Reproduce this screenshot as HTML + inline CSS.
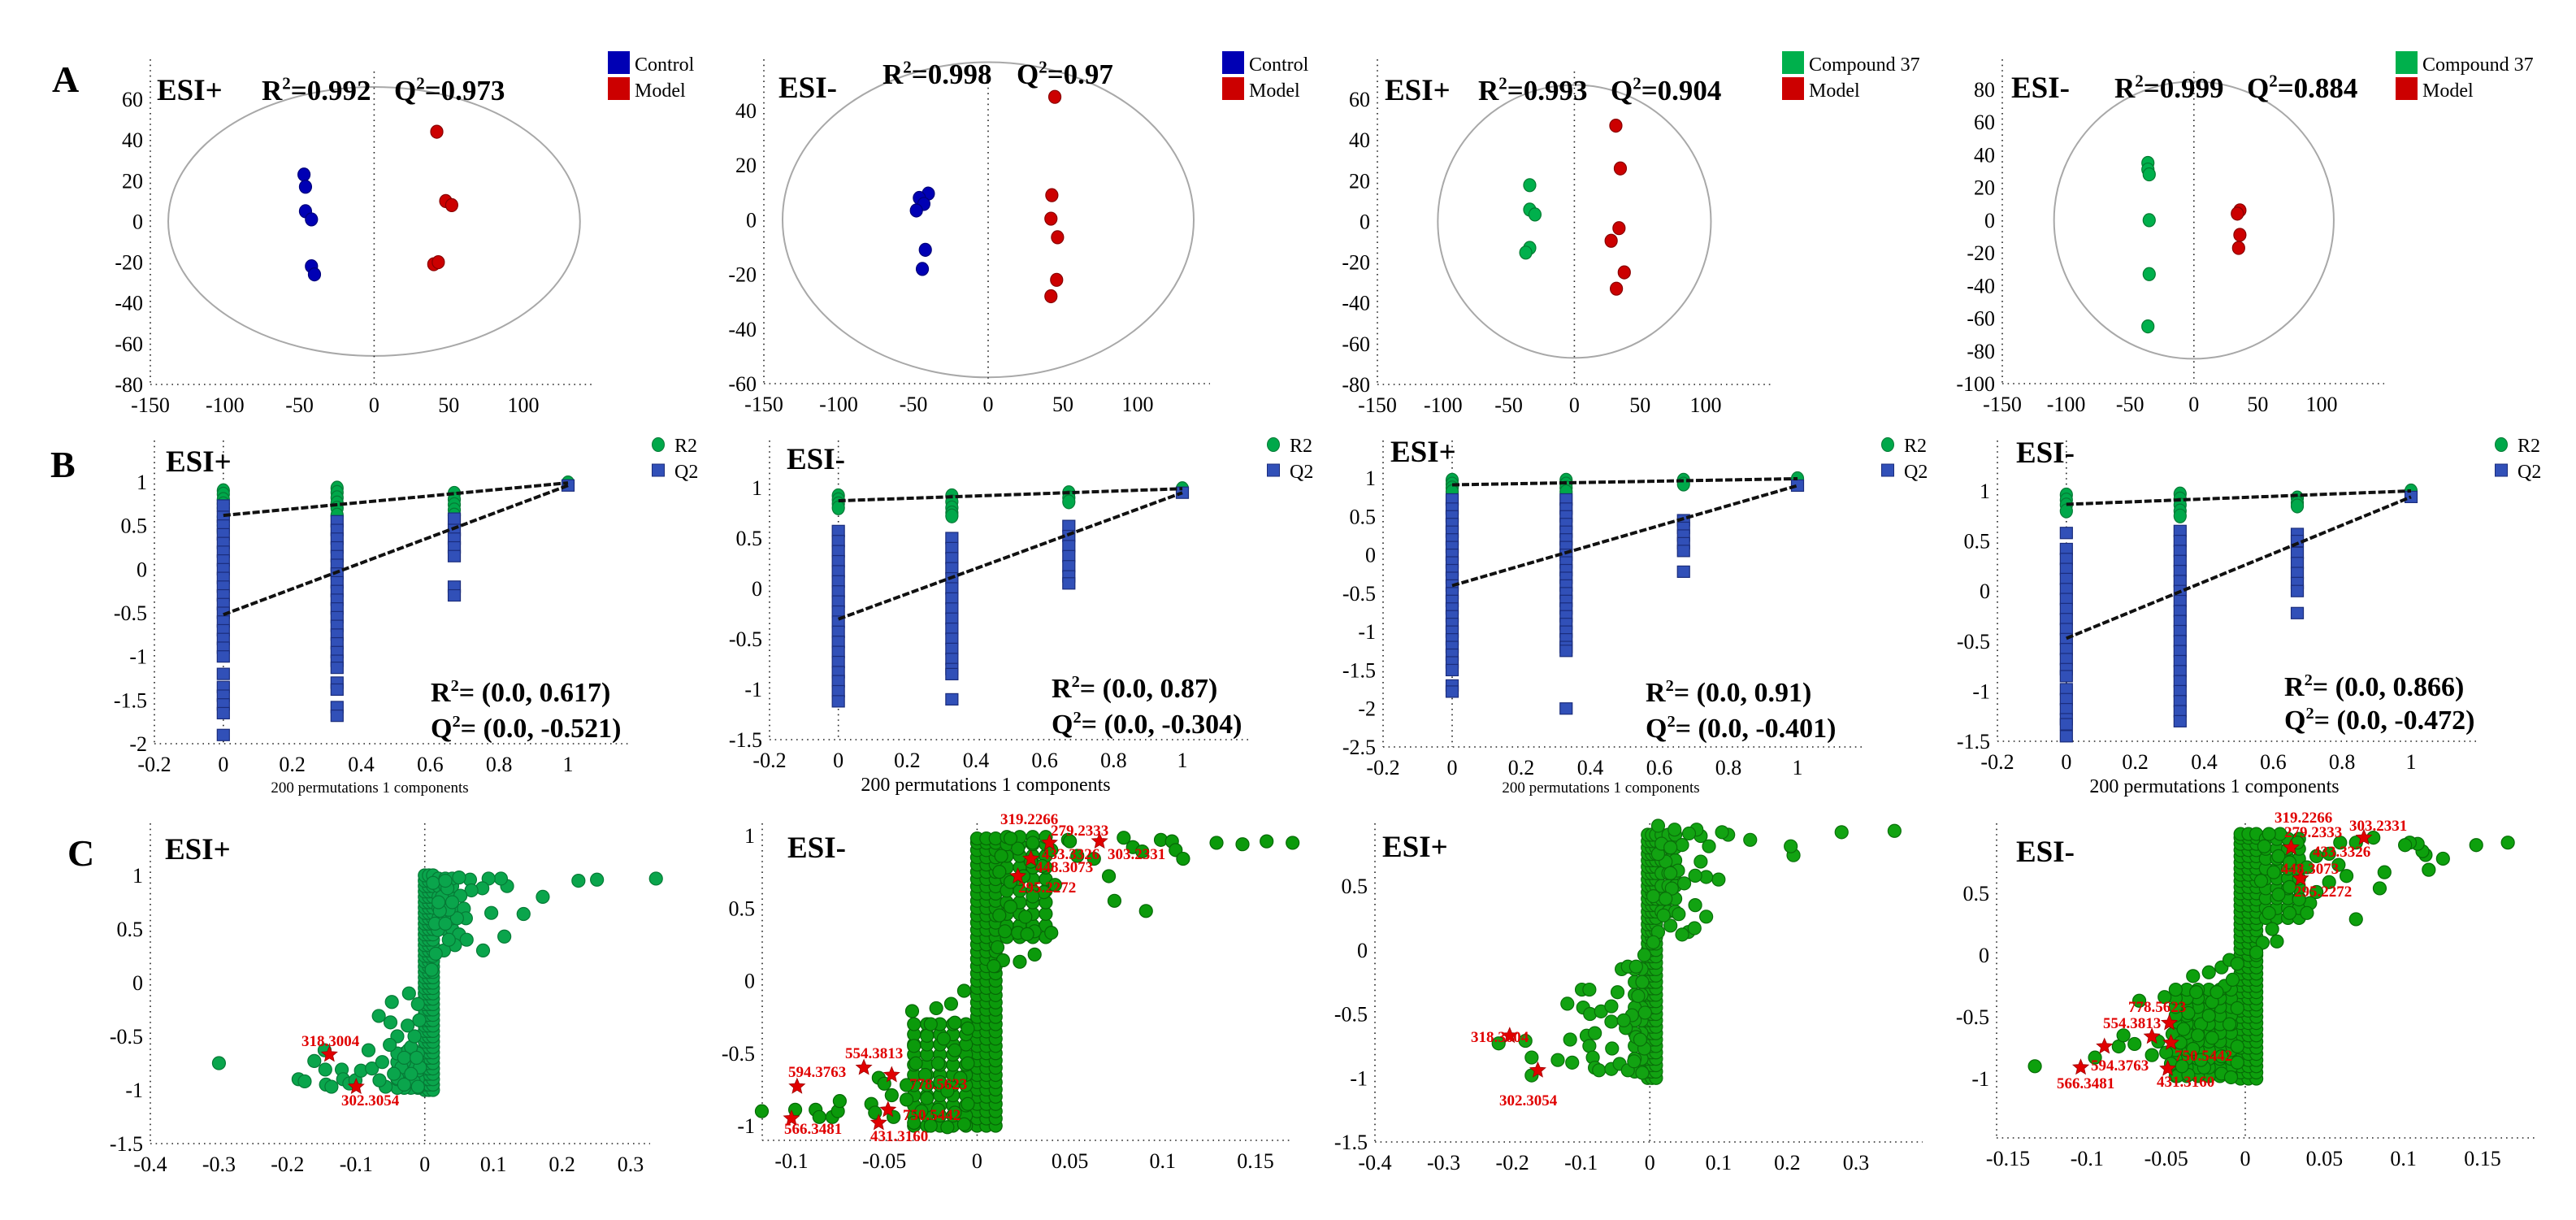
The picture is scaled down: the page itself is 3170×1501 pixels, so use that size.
<!DOCTYPE html>
<html><head><meta charset="utf-8"><style>
html,body{margin:0;padding:0;background:#fff;}
svg{display:block;font-family:"Liberation Serif",serif;}
</style></head><body>
<svg id="fig" width="3170" height="1501" viewBox="0 0 3170 1501" xmlns="http://www.w3.org/2000/svg">
<rect x="0" y="0" width="3170" height="1501" fill="#fff"/>
</svg>
<script>
// ===== Panel A data (score plots) =====
const a1BlueX=[-47,-46,-46,-42,-42,-40];
const a1BlueY=[23,17,5,1,-22,-26];
const a1RedX=[42,48,52,40,43];
const a1RedY=[44,10,8,-21,-20];
const a2BlueX=[-40,-46,-43,-48,-42,-44];
const a2BlueY=[9.6,8,5.8,3.4,-11,-18];
const a2RedX=[44.6,42.6,42,46.4,45.8,42];
const a2RedY=[45,9,0.4,-6.4,-22,-28];
const a3GreenX=[-34,-34,-30,-34,-37];
const a3GreenY=[17.8,5.8,3.4,-13,-15.3];
const a3RedX=[31.6,35,34,28,38,32];
const a3RedY=[47,26,-3.3,-9.5,-25,-33];
const a4GreenX=[-36,-36,-35,-35,-35,-36];
const a4GreenY=[35,31,28,0,-33,-65];
const a4RedX=[36,34,36,35];
const a4RedY=[6,4,-9,-17];
const aXTicks=[-150,-100,-50,0,50,100];
const a1YTicks=[-80,-60,-40,-20,0,20,40,60];
const a2YTicks=[-60,-40,-20,0,20,40];
const a4YTicks=[-100,-80,-60,-40,-20,0,20,40,60,80];
const aStats=[["ESI+","0.992","0.973"],["ESI-","0.998","0.97"],["ESI+","0.993","0.904"],["ESI-","0.999","0.884"]];
// ===== Panel B data (permutation tests) =====
const bPermX=[0,0.33,0.67,1];
const b1R2=[[0.9,0.86,0.8,0.75,0.7,0.6,0.5,0.42],[0.93,0.88,0.82,0.76,0.7,0.62],[0.87,0.8,0.74,0.68,0.62],[0.99]];
const b1Q2=[[0.73,0.6,0.5,0.4,0.3,0.2,0.1,0,-0.1,-0.2,-0.3,-0.4,-0.5,-0.6,-0.7,-0.8,-0.9,-1.0,-1.2,-1.35,-1.45,-1.55,-1.65,-1.9],[0.55,0.45,0.35,0.25,0.15,0.05,-0.05,-0.15,-0.25,-0.35,-0.45,-0.55,-0.65,-0.75,-0.85,-0.95,-1.05,-1.13,-1.3,-1.38,-1.58,-1.68],[0.58,0.45,0.35,0.25,0.15,-0.2,-0.3],[0.96]];
const b1Int=[0.617,-0.521];
const b2R2=[[0.92,0.88,0.84,0.8],[0.92,0.86,0.8,0.75,0.72],[0.95,0.9,0.86],[0.99]];
const b2Q2=[[0.57,0.47,0.37,0.27,0.17,0.07,-0.03,-0.13,-0.23,-0.33,-0.43,-0.53,-0.63,-0.73,-0.83,-0.92,-1.02,-1.12],[0.5,0.4,0.3,0.2,0.1,0,-0.1,-0.2,-0.3,-0.4,-0.5,-0.6,-0.7,-0.8,-0.85,-1.1],[0.62,0.52,0.42,0.32,0.22,0.12,0.05],[0.95]];
const b2Int=[0.87,-0.304];
const b3R2=[[0.97,0.92,0.87,0.82],[0.97,0.92,0.87,0.82],[0.97,0.92],[0.99]];
const b3Q2=[[0.72,0.6,0.5,0.4,0.3,0.2,0.1,0,-0.1,-0.2,-0.3,-0.4,-0.5,-0.6,-0.7,-0.8,-0.9,-1.0,-1.1,-1.2,-1.3,-1.4,-1.5,-1.7,-1.78],[0.72,0.6,0.5,0.4,0.3,0.2,0.1,0,-0.1,-0.2,-0.3,-0.4,-0.5,-0.6,-0.7,-0.8,-0.9,-1.0,-1.1,-1.2,-1.25,-2.0],[0.45,0.35,0.25,0.15,0.05,-0.22],[0.9]];
const b3Int=[0.91,-0.401];
const b4R2=[[0.96,0.91,0.86,0.8],[0.97,0.92,0.86,0.8,0.75],[0.93,0.88,0.85],[1.0]];
const b4Q2=[[0.58,0.42,0.32,0.22,0.12,0.02,-0.08,-0.18,-0.28,-0.38,-0.48,-0.58,-0.68,-0.78,-0.85,-0.98,-1.08,-1.18,-1.28,-1.33,-1.45],[0.6,0.5,0.4,0.3,0.2,0.1,0,-0.1,-0.2,-0.3,-0.4,-0.5,-0.6,-0.7,-0.8,-0.9,-1.0,-1.1,-1.2,-1.3],[0.57,0.5,0.38,0.28,0.18,0.08,0.0,-0.22],[0.94]];
const b4Int=[0.866,-0.472];
const bXTicks=[-0.2,0,0.2,0.4,0.6,0.8,1];
const b1YTicks=[-2,-1.5,-1,-0.5,0,0.5,1];
const b2YTicks=[-1.5,-1,-0.5,0,0.5,1];
const b3YTicks=[-2.5,-2,-1.5,-1,-0.5,0,0.5,1];
const bStats=[["ESI+","0.617","-0.521"],["ESI-","0.87","-0.304"],["ESI+","0.91","-0.401"],["ESI-","0.866","-0.472"]];
// ===== Panel C data (S-plots) =====
const c1CoreX=[0.0,0.006,0.012];
const c1CoreY=[-1,-0.95,-0.9,-0.85,-0.8,-0.75,-0.7,-0.65,-0.6,-0.55,-0.5,-0.45,-0.4,-0.35,-0.3,-0.25,-0.2,-0.15,-0.1,-0.05,0,0.05,0.1,0.15,0.2,0.25,0.3,0.35,0.4,0.45,0.5,0.55,0.6,0.65,0.7,0.75,0.8,0.85,0.9,0.95,1];
const c1UpperX=[0.02,0.03,0.04];
const c1UpperY=[0.5,0.6,0.7,0.8,0.9,0.97];
const c1LowerX=[-0.01,-0.02,-0.03,-0.04];
const c1LowerY=[-0.98,-0.9,-0.82,-0.74,-0.66];
const c1Pts=[[-0.3,-0.75],[-0.146,-0.63],[-0.161,-0.73],[-0.145,-0.81],[-0.184,-0.9],[-0.175,-0.92],[-0.144,-0.95],[-0.136,-0.97],[-0.121,-0.81],[-0.119,-0.9],[-0.11,-0.94],[-0.101,-0.91],[-0.093,-0.82],[-0.082,-0.63],[-0.077,-0.8],[-0.067,-0.31],[-0.048,-0.18],[-0.05,-0.37],[-0.04,-0.5],[-0.051,-0.58],[-0.062,-0.74],[-0.057,-0.97],[-0.066,-0.91],[-0.023,-0.1],[-0.024,-0.63],[-0.034,-0.79],[-0.016,-0.92],[-0.01,-0.97],[-0.007,-0.79],[-0.04,-0.89],[-0.02,-0.6],[-0.03,-0.95],[-0.045,-0.85],[-0.02,-0.85],[-0.03,-0.7],[-0.012,-0.7],[-0.015,-0.5],[-0.008,-0.35],[-0.025,-0.4],[-0.01,-0.2],[0.251,0.96],[0.224,0.95],[0.172,0.8],[0.144,0.64],[0.116,0.43],[0.085,0.3],[0.097,0.65],[0.12,0.9],[0.111,0.97],[0.093,0.97],[0.066,0.96],[0.05,0.98],[0.084,0.88],[0.068,0.86],[0.052,0.81],[0.057,0.69],[0.06,0.6],[0.047,0.6],[0.035,0.68],[0.05,0.45],[0.061,0.4],[0.044,0.35],[0.028,0.3],[0.035,0.4],[0.019,0.49],[0.025,0.8],[0.033,0.88],[0.012,0.93],[0.022,0.67],[0.016,0.27],[0.01,0.12],[0.337,0.97],[0.03,0.95],[0.02,0.75],[0.04,0.75],[0.015,0.55],[0.03,0.55]];
const c1Stars=[[-0.139,-0.67],[-0.1,-0.97]];
const c1Labels=["318.3004","302.3054"];
const c2CoreX=[0.0,0.005,0.01];
const c2CoreY=[-1,-0.95,-0.9,-0.85,-0.8,-0.75,-0.7,-0.65,-0.6,-0.55,-0.5,-0.45,-0.4,-0.35,-0.3,-0.25,-0.2,-0.15,-0.1,-0.05,0,0.05,0.1,0.15,0.2,0.25,0.3,0.35,0.4,0.45,0.5,0.55,0.6,0.65,0.7,0.75,0.8,0.85,0.9,0.95,0.98];
const c2UpperX=[0.016,0.023,0.03,0.037];
const c2UpperY=[0.3,0.38,0.46,0.54,0.62,0.7,0.78,0.86,0.94,0.99];
const c2LowerX=[-0.006,-0.013,-0.02,-0.027,-0.034];
const c2LowerY=[-1.0,-0.93,-0.86,-0.79,-0.72,-0.65,-0.58,-0.51,-0.44,-0.37,-0.3];
const c2Pts=[[0.079,0.985],[0.084,0.92],[0.089,0.89],[0.099,0.97],[0.105,0.96],[0.107,0.9],[0.111,0.84],[0.129,0.95],[0.143,0.94],[0.156,0.96],[0.17,0.95],[0.071,0.72],[0.074,0.55],[0.091,0.48],[0.063,0.84],[0.054,0.86],[0.049,0.97],[0.05,0.96],[0.04,0.33],[0.031,0.34],[0.031,0.18],[0.023,0.13],[0.014,0.14],[0.042,0.66],[0.036,0.61],[0.03,0.58],[0.026,0.44],[0.022,0.33],[0.027,0.32],[0.035,0.79],[0.029,0.82],[0.022,0.91],[0.018,0.98],[0.013,0.86],[0.018,0.68],[0.018,0.51],[0.015,0.34],[0.011,0.23],[0.009,0.1],[0.03,0.95],[0.04,0.9],[0.012,0.75],[0.025,0.72],[0.012,0.45],[-0.116,-0.9],[-0.098,-0.89],[-0.087,-0.89],[-0.085,-0.94],[-0.078,-0.94],[-0.075,-0.9],[-0.074,-0.83],[-0.057,-0.85],[-0.055,-0.91],[-0.053,-0.67],[-0.05,-0.71],[-0.046,-0.79],[-0.045,-0.94],[-0.038,-0.82],[-0.034,-0.98],[-0.025,-1.0],[-0.016,-1.01],[-0.007,-0.99],[-0.038,-0.72],[-0.033,-0.57],[-0.034,-0.45],[-0.027,-0.38],[-0.025,-0.3],[-0.035,-0.21],[-0.022,-0.19],[-0.014,-0.16],[-0.007,-0.07],[-0.021,-0.57],[-0.012,-0.48],[-0.016,-0.76],[-0.009,-0.67],[-0.027,-0.81],[-0.021,-0.89],[-0.012,-0.91],[-0.005,-0.85],[-0.005,-0.57],[-0.005,-0.33],[-0.018,-0.4],[-0.012,-0.29],[-0.03,-0.9],[-0.028,-0.65],[-0.02,-0.7]];
const c2Stars=[[0.039,0.95],[0.066,0.96],[0.029,0.84],[0.022,0.72],[-0.061,-0.6],[-0.046,-0.65],[-0.097,-0.73],[-0.048,-0.89],[-0.053,-0.98],[-0.1,-0.95]];
const c2Labels=["319.2266","279.2333","433.3326","303.2331","448.3073","295.2272","554.3813","594.3763","778.5623","750.5442","566.3481","431.3160"];
const c3CoreX=[-0.003,0.003,0.009];
const c3CoreY=[-1,-0.95,-0.9,-0.85,-0.8,-0.75,-0.7,-0.65,-0.6,-0.55,-0.5,-0.45,-0.4,-0.35,-0.3,-0.25,-0.2,-0.15,-0.1,-0.05,0,0.05,0.1,0.15,0.2,0.25,0.3,0.35,0.4,0.45,0.5,0.55,0.6,0.65,0.7,0.75,0.8,0.85,0.9];
const c3UpperX=[0.017,0.027,0.037];
const c3UpperY=[0.3,0.4,0.5,0.6,0.7,0.8,0.9];
const c3LowerX=[-0.012,-0.022];
const c3LowerY=[-0.95,-0.85,-0.75,-0.65,-0.55,-0.45,-0.35,-0.25,-0.15];
const c3Pts=[[0.356,0.93],[0.279,0.92],[0.209,0.74],[0.205,0.81],[0.146,0.86],[0.114,0.9],[0.105,0.92],[0.1,0.55],[0.082,0.26],[0.066,0.35],[0.042,0.28],[0.056,0.14],[0.047,0.12],[0.065,0.17],[0.03,0.19],[0.082,0.57],[0.066,0.58],[0.074,0.69],[0.086,0.81],[0.074,0.89],[0.068,0.94],[0.057,0.91],[0.036,0.94],[0.012,0.97],[0.047,0.82],[0.05,0.52],[0.032,0.48],[0.041,0.62],[0.023,0.69],[0.012,0.75],[0.017,0.83],[0.005,0.42],[0.023,0.4],[0.02,0.27],[0.012,0.14],[0.005,0.06],[0.03,0.8],[0.03,0.6],[-0.22,-0.73],[-0.181,-0.71],[-0.172,-0.84],[-0.172,-0.98],[-0.134,-0.86],[-0.113,-0.88],[-0.116,-0.7],[-0.12,-0.42],[-0.099,-0.31],[-0.088,-0.31],[-0.097,-0.45],[-0.087,-0.5],[-0.071,-0.48],[-0.056,-0.44],[-0.047,-0.33],[-0.041,-0.15],[-0.032,-0.13],[-0.02,-0.13],[-0.056,-0.56],[-0.055,-0.77],[-0.092,-0.67],[-0.08,-0.65],[-0.088,-0.75],[-0.083,-0.84],[-0.08,-0.92],[-0.074,-0.94],[-0.056,-0.93],[-0.044,-0.89],[-0.032,-0.94],[-0.011,-0.96],[-0.023,-0.87],[-0.035,-0.61],[-0.026,-0.51],[-0.017,-0.36],[-0.038,-0.55],[-0.02,-0.68],[-0.008,-0.77],[-0.011,-0.25],[-0.008,-0.04],[-0.014,-0.7],[-0.007,-0.49]];
const c3Stars=[[-0.204,-0.67],[-0.163,-0.94]];
const c3Labels=["318.3004","302.3054"];
const c4CoreX=[-0.003,0.002,0.007];
const c4CoreY=[-1,-0.95,-0.9,-0.85,-0.8,-0.75,-0.7,-0.65,-0.6,-0.55,-0.5,-0.45,-0.4,-0.35,-0.3,-0.25,-0.2,-0.15,-0.1,-0.05,0,0.05,0.1,0.15,0.2,0.25,0.3,0.35,0.4,0.45,0.5,0.55,0.6,0.65,0.7,0.75,0.8,0.85,0.9,0.95,0.98];
const c4UpperX=[0.013,0.02,0.027,0.034];
const c4UpperY=[0.3,0.38,0.46,0.54,0.62,0.7,0.78,0.86,0.94];
const c4LowerX=[-0.009,-0.016,-0.023,-0.03,-0.037,-0.044];
const c4LowerY=[-0.98,-0.91,-0.84,-0.77,-0.7,-0.63,-0.56,-0.49,-0.42,-0.35,-0.28];
const c4Pts=[[0.166,0.91],[0.146,0.89],[0.125,0.78],[0.116,0.69],[0.114,0.81],[0.112,0.84],[0.109,0.9],[0.104,0.91],[0.101,0.89],[0.088,0.67],[0.085,0.54],[0.07,0.29],[0.081,0.95],[0.07,0.91],[0.06,0.91],[0.064,0.64],[0.053,0.59],[0.059,0.73],[0.053,0.82],[0.041,0.42],[0.039,0.34],[0.028,0.34],[0.045,0.51],[0.034,0.45],[0.039,0.71],[0.033,0.91],[0.022,0.98],[0.015,0.98],[0.02,0.11],[0.017,0.21],[0.011,0.1],[0.007,0.02],[0.021,0.8],[0.021,0.49],[0.015,0.34],[0.028,0.55],[0.01,0.6],[0.018,0.67],[0.028,0.75],[0.045,0.8],[0.012,0.88],[-0.133,-0.9],[-0.095,-0.83],[-0.08,-0.74],[-0.077,-0.65],[-0.07,-0.72],[-0.067,-0.37],[-0.051,-0.34],[-0.059,-0.81],[-0.055,-0.7],[-0.05,-0.79],[-0.047,-0.88],[-0.046,-0.64],[-0.043,-0.98],[-0.036,-0.97],[-0.033,-0.17],[-0.023,-0.14],[-0.015,-0.1],[-0.01,-0.04],[-0.031,-0.3],[-0.036,-0.47],[-0.039,-0.6],[-0.028,-0.56],[-0.021,-0.38],[-0.013,-0.25],[-0.033,-0.76],[-0.021,-0.67],[-0.01,-0.56],[-0.005,-0.43],[-0.026,-0.91],[-0.015,-0.96],[-0.009,-0.99],[-0.005,-0.87],[-0.005,-0.74],[-0.015,-0.82],[-0.028,-0.85],[-0.041,-0.71],[-0.023,-0.49],[-0.008,-0.2],[-0.005,-0.07],[-0.04,-0.9],[-0.03,-0.65],[-0.018,-0.3]];
const c4Stars=[[0.075,0.95],[0.029,0.87],[0.035,0.62],[-0.048,-0.55],[-0.059,-0.66],[-0.047,-0.71],[-0.089,-0.74],[-0.104,-0.91],[-0.049,-0.92]];
const c4Labels=["319.2266","279.2333","303.2331","433.3326","448.3073","295.2272","778.5623","554.3813","750.5442","594.3763","566.3481","431.3160"];
const c1XTicks=[-0.4,-0.3,-0.2,-0.1,0,0.1,0.2,0.3];
const c1YTicks=[-1.5,-1,-0.5,0,0.5,1];
const c2XTicks=[-0.1,-0.05,0,0.05,0.1,0.15];
const c2YTicks=[-1,-0.5,0,0.5,1];
const c3YTicks=[-1.5,-1,-0.5,0,0.5];
const c4XTicks=[-0.15,-0.1,-0.05,0,0.05,0.1,0.15];
const c4YTicks=[-1,-0.5,0,0.5];

// ===== Layout (pixel configuration) =====
const NS='http://www.w3.org/2000/svg';
const svg=document.getElementById('fig');
const FONT='"Liberation Serif", serif';
function mk(tag,attrs,parent){const e=document.createElementNS(NS,tag);for(const k in attrs)e.setAttribute(k,attrs[k]);(parent||svg).appendChild(e);return e;}
function lin(d0,p0,d1,p1){return v=>p0+(v-d0)*(p1-p0)/(d1-d0);}
function txt(parent,x,y,s,size,opt,name){
  opt=opt||{};
  const t=mk('text',{x:x,y:y,'font-size':size,'font-family':FONT,fill:opt.fill||'#000','font-weight':opt.bold?'bold':'normal','text-anchor':opt.anchor||'start'},parent);
  t.textContent=s;
  
  
  return t;
}
function supTxt(parent,x,y,base,rest,size,name){
  const t=mk('text',{x:x,y:y,'font-size':size,'font-family':FONT,'font-weight':'bold',fill:'#000'},parent);
  
  
  const a=mk('tspan',{},t);a.textContent=base;
  const b=mk('tspan',{dy:-size*0.38,'font-size':size*0.6},t);b.textContent='2';
  const c=mk('tspan',{dy:size*0.38},t);c.textContent=rest;
  return t;
}
const dot={stroke:'#222','stroke-width':1.6,'stroke-dasharray':'1.6,5',fill:'none'};
function axes(g,c,X,Y,xt,yt,pre){
  const ya=mk('line',Object.assign({x1:c.left,y1:c.top,x2:c.left,y2:c.bottom},dot),g);
  
  
  const xa=mk('line',Object.assign({x1:c.left,y1:c.bottom,x2:c.right,y2:c.bottom},dot),g);
  
  
  const z=mk('line',Object.assign({x1:X(0),y1:c.ztop||c.top+15,x2:X(0),y2:c.bottom},dot),g);
  
  
  xt.forEach(v=>{txt(g,X(v),c.bottom+34,String(v),26,{anchor:'middle'},pre+'-x-tick-label');});
  yt.forEach(v=>{txt(g,c.left-9,Y(v)+9,String(v),26,{anchor:'end'},pre+'-y-tick-label');});
}
function dots(g,xs,ys,X,Y,fill,stroke,name){
  xs.forEach((v,i)=>{
    const e=mk('ellipse',{cx:X(v),cy:Y(ys[i]),rx:7.5,ry:8,fill:fill,stroke:stroke,'stroke-width':1.2},g);
    
    
  });
}
// --- Panel A ---
const aCfg=[
 {x:[-150,185,100,644],y:[60,122,-80,473],left:185,top:73,bottom:473,right:730,ell:[138,66],esi:[193,123],r:[322,123],q:[485,123],leg:748,yt:a1YTicks,names:['Control','Model'],cols:['#0000b4','#cc0000']},
 {x:[-150,940,100,1400],y:[40,136,-60,472],left:940,top:73,bottom:472,right:1489,ell:[137.5,57.7],esi:[958,120],r:[1086,103],q:[1251,103],leg:1504,yt:a2YTicks,names:['Control','Model'],cols:['#0000b4','#cc0000']},
 {x:[-150,1695,100,2099],y:[60,122,-80,473],left:1695,top:73,bottom:473,right:2179,ell:[104,67],esi:[1704,123],r:[1819,123],q:[1982,123],leg:2193,yt:a1YTicks,names:['Compound 37','Model'],cols:['#00b04c','#cc0000']},
 {x:[-150,2464,100,2857],y:[80,110,-100,472],left:2464,top:73,bottom:472,right:2934,ell:[109.5,84.8],esi:[2475,120],r:[2602,120],q:[2765,120],leg:2948,yt:a4YTicks,names:['Compound 37','Model'],cols:['#00b04c','#cc0000']}
];
const aPts=[[a1BlueX,a1BlueY,a1RedX,a1RedY],[a2BlueX,a2BlueY,a2RedX,a2RedY],[a3GreenX,a3GreenY,a3RedX,a3RedY],[a4GreenX,a4GreenY,a4RedX,a4RedY]];
aCfg.forEach((c,i)=>{
  const g=mk('g',{});
  
  
  const X=lin(c.x[0],c.x[1],c.x[2],c.x[3]),Y=lin(c.y[0],c.y[1],c.y[2],c.y[3]);
  const el=mk('ellipse',{cx:X(0),cy:Y(0),rx:Math.abs(X(c.ell[0])-X(0)),ry:Math.abs(Y(c.ell[1])-Y(0)),fill:'none',stroke:'#a8a8a8','stroke-width':2},g);
  
  
  axes(g,c,X,Y,aXTicks,c.yt,'a'+(i+1));
  const p=aPts[i];
  dots(g,p[0],p[1],X,Y,c.cols[0],i>=2?'#007a30':'#00007a','group1-point');
  dots(g,p[2],p[3],X,Y,c.cols[1],'#880000','model-point');
  txt(g,c.esi[0],c.esi[1],aStats[i][0],37,{bold:true},'ionization-mode-label');
  supTxt(g,c.r[0],c.r[1],'R','='+aStats[i][1],35,'r2-value');
  supTxt(g,c.q[0],c.q[1],'Q','='+aStats[i][2],35,'q2-value');
  [0,1].forEach(k=>{
    const s=mk('rect',{x:c.leg,y:63+k*32,width:27,height:28,fill:c.cols[k]},g);
    
    
    txt(g,c.leg+33,87+k*32,c.names[k],24,{},'legend-label');
  });
});
txt(svg,64,113,'A',46,{bold:true},'panel-letter-a');
txt(svg,62,587,'B',46,{bold:true},'panel-letter-b');
txt(svg,83,1065,'C',46,{bold:true},'panel-letter-c');
// --- Panel B ---
const bCfg=[
 {x:[-0.2,190,1,699],y:[1,593,-2,915],left:190,top:542,bottom:915,right:775,esi:[204,580],st:[530,863,907],leg:810,sub:[455,975,19],yt:b1YTicks,R:b1R2,Q:b1Q2,I:b1Int},
 {x:[-0.2,947,1,1455],y:[1,600,-1.5,910],left:947,top:542,bottom:910,right:1537,esi:[968,577],st:[1294,858,902],leg:1567,sub:[1213,973,24],yt:b2YTicks,R:b2R2,Q:b2Q2,I:b2Int},
 {x:[-0.2,1702,1,2212],y:[1,588,-2.5,919],left:1702,top:542,bottom:919,right:2294,esi:[1711,568],st:[2025,863,907],leg:2323,sub:[1970,975,19],yt:b3YTicks,R:b3R2,Q:b3Q2,I:b3Int},
 {x:[-0.2,2458,1,2967],y:[1,604,-1.5,912],left:2458,top:542,bottom:912,right:3051,esi:[2481,569],st:[2811,856,897],leg:3078,sub:[2725,975,24],yt:b2YTicks,R:b4R2,Q:b4Q2,I:b4Int}
];
bCfg.forEach((c,i)=>{
  const g=mk('g',{});
  
  
  const X=lin(c.x[0],c.x[1],c.x[2],c.x[3]),Y=lin(c.y[0],c.y[1],c.y[2],c.y[3]);
  c.ztop=c.top;
  axes(g,c,X,Y,bXTicks,c.yt,'b'+(i+1));
  c.R.forEach((col,k)=>col.forEach(v=>{
    const e=mk('ellipse',{cx:X(bPermX[k]),cy:Y(v),rx:7.5,ry:8.5,fill:'#00a84a',stroke:'#067a36','stroke-width':1.2},g);
    
    
  }));
  c.Q.forEach((col,k)=>col.forEach(v=>{
    const e=mk('rect',{x:X(bPermX[k])-7.5,y:Y(v)-7,width:15,height:14,fill:'#3150b8',stroke:'#1b2d7c','stroke-width':1.2},g);
    
    
  }));
  const lr=mk('line',{x1:X(0),y1:Y(c.I[0]),x2:X(1),y2:Y(c.R[3][0]),stroke:'#111','stroke-width':4,'stroke-dasharray':'9,3'},g);
  
  
  const lq=mk('line',{x1:X(0),y1:Y(c.I[1]),x2:X(1),y2:Y(c.Q[3][0]),stroke:'#111','stroke-width':4,'stroke-dasharray':'9,3'},g);
  
  
  txt(g,c.esi[0],c.esi[1],bStats[i][0],37,{bold:true},'ionization-mode-label');
  supTxt(g,c.st[0],c.st[1],'R','= (0.0, '+bStats[i][1]+')',34,'r2-intercept');
  supTxt(g,c.st[0],c.st[2],'Q','= (0.0, '+bStats[i][2]+')',34,'q2-intercept');
  txt(g,c.sub[0],c.sub[1],'200 permutations 1 components',c.sub[2],{anchor:'middle'},'x-axis-title');
  const lc=mk('ellipse',{cx:c.leg,cy:547,rx:7.5,ry:8.5,fill:'#00a84a',stroke:'#067a36'},g);
  
  
  txt(g,c.leg+20,556,'R2',24,{},'legend-r2-label');
  const ls=mk('rect',{x:c.leg-7.5,y:571,width:15,height:15,fill:'#3150b8',stroke:'#1b2d7c'},g);
  
  
  txt(g,c.leg+20,588,'Q2',24,{},'legend-q2-label');
});
// --- Panel C ---
const cCfg=[
 {x:[-0.4,185,0.3,776],y:[1,1077,-1.5,1407],left:185,top:1013,bottom:1407,right:800,esi:[203,1057],xt:c1XTicks,yt:c1YTicks,grids:[[c1CoreX,c1CoreY],[c1UpperX,c1UpperY],[c1LowerX,c1LowerY]],pts:c1Pts,stars:c1Stars,labels:c1Labels,lpos:[[371,1287],[420,1360]],fill:'#0aa54c',stroke:'#067a36'},
 {x:[-0.1,974,0.15,1545],y:[1,1028,-1,1385],left:938,top:1013,bottom:1403,right:1590,esi:[969,1055],xt:c2XTicks,yt:c2YTicks,grids:[[c2CoreX,c2CoreY],[c2UpperX,c2UpperY],[c2LowerX,c2LowerY]],pts:c2Pts,stars:c2Stars,labels:c2Labels,lpos:[[1231,1014],[1293,1028],[1282,1057],[1363,1057],[1274,1073],[1253,1098],[1040,1302],[970,1325],[1119,1340],[1111,1378],[965,1395],[1071,1404]],fill:'#0b9a0b',stroke:'#066806'},
 {x:[-0.4,1692,0.3,2284],y:[0.5,1090,-1.5,1405],left:1692,top:1013,bottom:1405,right:2366,esi:[1701,1054],xt:c1XTicks,yt:c3YTicks,grids:[[c3CoreX,c3CoreY],[c3UpperX,c3UpperY],[c3LowerX,c3LowerY]],pts:c3Pts,stars:c3Stars,labels:c3Labels,lpos:[[1810,1282],[1845,1360]],fill:'#12a312',stroke:'#0a700a'},
 {x:[-0.15,2471,0.15,3055],y:[0.5,1099,-1,1327],left:2457,top:1013,bottom:1400,right:3120,esi:[2481,1060],xt:c4XTicks,yt:c4YTicks,grids:[[c4CoreX,c4CoreY],[c4UpperX,c4UpperY],[c4LowerX,c4LowerY]],pts:c4Pts,stars:c4Stars,labels:c4Labels,lpos:[[2799,1012],[2811,1030],[2891,1022],[2846,1054],[2807,1075],[2823,1103],[2619,1245],[2588,1265],[2676,1305],[2573,1317],[2531,1339],[2654,1337]],fill:'#0da00d',stroke:'#066c06'}
];
function starPath(cx,cy,r){let d='';for(let k=0;k<10;k++){const rr=k%2?r*0.45:r;const a=-Math.PI/2+k*Math.PI/5;d+=(k?'L':'M')+(cx+rr*Math.cos(a)).toFixed(1)+','+(cy+rr*Math.sin(a)).toFixed(1);}return d+'Z';}
cCfg.forEach((c,i)=>{
  const g=mk('g',{});
  
  
  const X=lin(c.x[0],c.x[1],c.x[2],c.x[3]),Y=lin(c.y[0],c.y[1],c.y[2],c.y[3]);
  c.ztop=c.top;
  axes(g,c,X,Y,c.xt,c.yt,'c'+(i+1));
  c.grids.forEach(gr=>gr[1].forEach(y=>gr[0].forEach(x=>{
    const e=mk('circle',{cx:X(x),cy:Y(y),r:8,fill:c.fill,stroke:c.stroke,'stroke-width':1.2},g);
    
    
  })));
  c.pts.forEach(p=>{
    const e=mk('circle',{cx:X(p[0]),cy:Y(p[1]),r:8,fill:c.fill,stroke:c.stroke,'stroke-width':1.2},g);
    
    
  });
  c.stars.forEach(p=>{
    const s=mk('path',{d:starPath(X(p[0]),Y(p[1]),10),fill:'#e00000',stroke:'#a00000','stroke-width':0.8},g);
    
    
  });
  c.labels.forEach((s,k)=>{txt(g,c.lpos[k][0],c.lpos[k][1],s,19,{bold:true,fill:'#e00000'},'metabolite-label');});
  txt(g,c.esi[0],c.esi[1],i%2?'ESI-':'ESI+',37,{bold:true},'ionization-mode-label');
});
</script>
</body></html>
